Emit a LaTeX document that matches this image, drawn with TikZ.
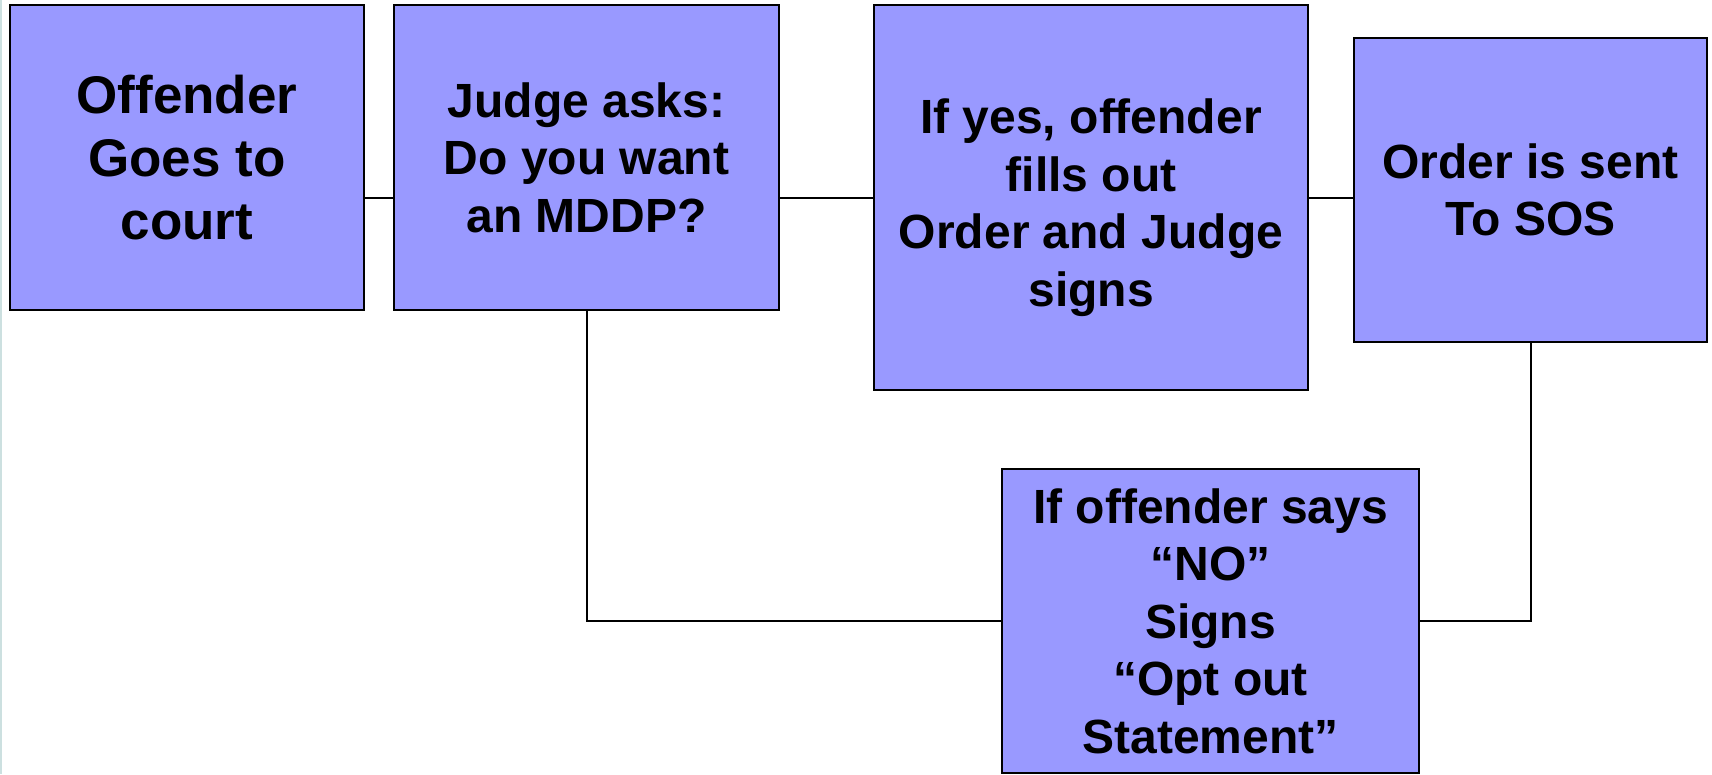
\documentclass[tikz,border=0pt]{standalone}
\usepackage{fontspec}
\setmainfont{Liberation Sans}
\definecolor{boxfill}{HTML}{9999FF}
\definecolor{edgestrip}{HTML}{CCE0E0}
\begin{document}
\begin{tikzpicture}[x=1pt,y=-1pt,
  stepbox/.style={draw=black, line width=2pt, fill=boxfill, rectangle, align=center,
    inner sep=0pt, font=\bfseries\fontsize{48}{57.5}\selectfont},
  link/.style={draw=black, line width=2pt}]
\useasboundingbox (0,0) rectangle (1712,774);
\draw[edgestrip, line width=2pt] (1,0) -- (1,774);
\node[stepbox, minimum width=354pt, minimum height=305pt, font=\bfseries\fontsize{53}{63}\selectfont] (b1) at (187,157.5) {Offender\\Goes to\\court};
\node[stepbox, minimum width=385pt, minimum height=305pt] (b2) at (586.5,157.5) {Judge asks:\\Do you want\\an MDDP?};
\node[stepbox, minimum width=434pt, minimum height=385pt] (b3) at (1091,197.5) {\rule{0pt}{45pt}If yes, offender\\fills out\\Order and Judge\\\smash{signs}};
\node[stepbox, minimum width=353pt, minimum height=304pt] (b4) at (1530.5,190) {Order is sent\\To SOS};
\node[stepbox, minimum width=417pt, minimum height=304pt] (b5) at (1210.5,621) {If offender says\\“NO”\\Signs\\“Opt out\\Statement”};
\coordinate (row) at (0,198);
\draw[link] (b1.east |- row) -- (b2.west |- row);
\draw[link] (b2.east |- row) -- (b3.west |- row);
\draw[link] (b3.east |- row) -- (b4.west |- row);
\draw[link] (b2.south) |- (b5.west);
\draw[link] (b4.south) |- (b5.east);
\end{tikzpicture}
\end{document}
